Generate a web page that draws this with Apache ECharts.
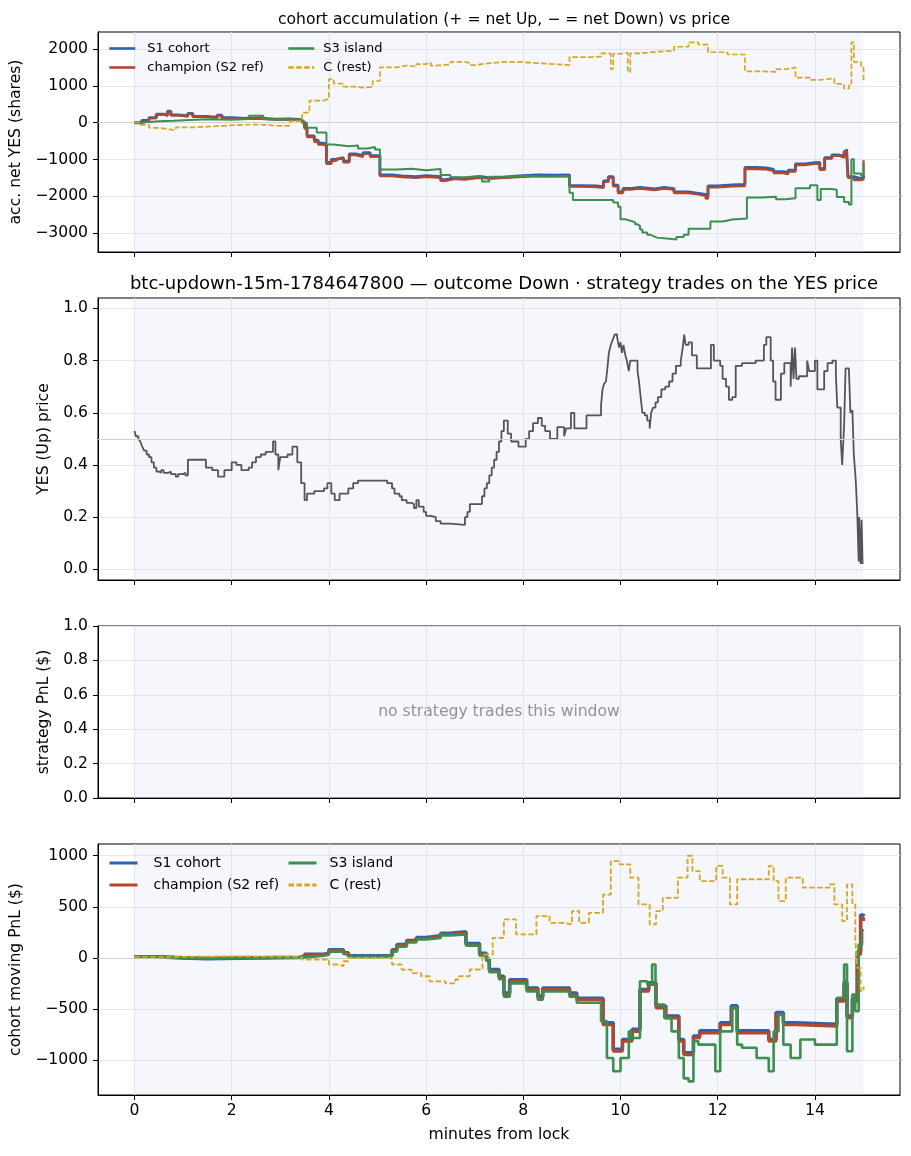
<!DOCTYPE html>
<html><head><meta charset="utf-8">
<script src="https://cdn.jsdelivr.net/npm/echarts@6/dist/echarts.min.js"></script>
<style>html,body{margin:0;padding:0;background:#fff}#c{width:911px;height:1156px}</style>
</head><body><div id="c"></div>
<script>
// ---------- data ----------
const xTicks = [0, 2, 4, 6, 8, 10, 12, 14];
const accTicks = [-3000, -2000, -1000, 0, 1000, 2000];
const priceTicks = [0, 0.2, 0.4, 0.6, 0.8, 1.0];
const pnlTicks = [0, 0.2, 0.4, 0.6, 0.8, 1.0];
const movTicks = [-1000, -500, 0, 500, 1000];
const seriesNames = ['S1 cohort', 'champion (S2 ref)', 'S3 island', 'C (rest)'];

const accS1 = [[0,0],[0.15,60],[0.3,130],[0.45,230],[0.6,200],[0.68,310],[0.75,210],[0.9,180],[1.1,250],[1.2,170],[1.5,140],[1.7,200],[1.8,130],[2.0,110],[2.3,120],[2.6,95],[2.9,100],[3.2,80],[3.45,20],[3.5,-140],[3.55,-360],[3.7,-480],[3.78,-560],[3.9,-600],[3.95,-1080],[4.05,-1000],[4.15,-950],[4.3,-1050],[4.42,-850],[4.55,-900],[4.7,-820],[4.85,-900],[5.05,-1420],[5.3,-1450],[5.5,-1470],[5.8,-1440],[6.0,-1470],[6.3,-1550],[6.4,-1500],[6.6,-1520],[6.8,-1480],[7.0,-1470],[7.15,-1500],[7.3,-1480],[7.6,-1450],[7.9,-1440],[8.0,-1420],[8.3,-1430],[8.6,-1420],[8.95,-1710],[9.2,-1720],[9.5,-1740],[9.65,-1580],[9.75,-1470],[9.85,-1700],[9.95,-1880],[10.05,-1790],[10.2,-1760],[10.4,-1800],[10.7,-1760],[10.9,-1790],[11.1,-1880],[11.4,-1920],[11.6,-1950],[11.75,-2000],[11.8,-1720],[12.0,-1690],[12.3,-1680],[12.56,-1220],[12.8,-1230],[13.0,-1270],[13.15,-1330],[13.35,-1360],[13.45,-1290],[13.6,-1120],[13.8,-1090],[14.0,-1080],[14.1,-1250],[14.2,-950],[14.35,-880],[14.5,-920],[14.6,-780],[14.65,-720],[14.68,-1470],[14.8,-1520],[14.95,-1480],[15.0,-1450]];
const accChamp = [[0,0],[0.15,50],[0.3,120],[0.45,220],[0.6,190],[0.68,300],[0.75,200],[0.9,170],[1.1,240],[1.2,160],[1.5,130],[1.7,190],[1.8,120],[2.0,100],[2.3,110],[2.6,85],[2.9,90],[3.2,70],[3.45,10],[3.5,-160],[3.55,-390],[3.7,-520],[3.78,-600],[3.9,-640],[3.95,-1120],[4.05,-1040],[4.15,-980],[4.3,-1080],[4.42,-880],[4.55,-930],[4.7,-850],[4.85,-930],[5.05,-1450],[5.3,-1480],[5.5,-1500],[5.8,-1470],[6.0,-1500],[6.3,-1580],[6.4,-1530],[6.6,-1550],[6.8,-1510],[7.0,-1500],[7.15,-1520],[7.3,-1500],[7.6,-1480],[7.9,-1470],[8.0,-1450],[8.3,-1460],[8.6,-1450],[8.95,-1740],[9.2,-1750],[9.5,-1770],[9.65,-1610],[9.75,-1500],[9.85,-1730],[9.95,-1910],[10.05,-1820],[10.2,-1790],[10.4,-1830],[10.7,-1790],[10.9,-1820],[11.1,-1910],[11.4,-1950],[11.6,-1990],[11.75,-2060],[11.8,-1760],[12.0,-1730],[12.3,-1720],[12.56,-1260],[12.8,-1270],[13.0,-1310],[13.15,-1370],[13.35,-1400],[13.45,-1330],[13.6,-1150],[13.8,-1120],[14.0,-1110],[14.1,-1280],[14.2,-980],[14.35,-900],[14.5,-950],[14.6,-800],[14.65,-740],[14.68,-1500],[14.8,-1560],[14.95,-1540],[15.0,-1020]];
const accS3 = [[0,0],[0.1,40],[0.5,50],[0.8,90],[1.5,80],[2.0,100],[2.35,190],[2.65,90],[3.2,80],[3.45,0],[3.55,-140],[3.75,-270],[3.95,-590],[4.1,-640],[4.4,-620],[4.6,-700],[4.8,-660],[4.95,-730],[5.05,-1270],[5.4,-1250],[5.7,-1290],[6.0,-1260],[6.3,-1420],[6.5,-1480],[6.8,-1450],[7.1,-1490],[7.15,-1600],[7.3,-1470],[7.7,-1450],[8.0,-1460],[8.5,-1450],[8.95,-1900],[9.02,-2100],[9.5,-2100],[9.85,-2170],[9.95,-2280],[10.0,-2620],[10.1,-2660],[10.2,-2700],[10.3,-2760],[10.35,-2800],[10.4,-2900],[10.45,-2980],[10.55,-3040],[10.6,-3080],[10.68,-3120],[10.75,-3150],[11.0,-3170],[11.15,-3100],[11.3,-3040],[11.4,-2880],[11.85,-2680],[12.1,-2630],[12.3,-2600],[12.6,-2030],[12.9,-2010],[13.2,-2080],[13.4,-2050],[13.6,-1780],[13.9,-1700],[14.05,-2100],[14.12,-1800],[14.35,-1820],[14.45,-2020],[14.6,-2150],[14.7,-2220],[14.75,-990],[14.8,-1380],[14.95,-1440],[15.0,-1080]];
const accC = [[0,0],[0.1,-60],[0.3,-140],[0.5,-180],[0.7,-200],[0.85,-130],[1.2,-110],[1.5,-70],[2.0,-50],[2.4,-60],[2.7,-90],[3.0,-80],[3.2,40],[3.45,270],[3.6,600],[3.9,650],[4.0,1180],[4.1,1060],[4.3,980],[4.5,950],[4.7,970],[4.9,1130],[5.05,1500],[5.4,1550],[5.6,1520],[5.8,1590],[6.0,1630],[6.1,1550],[6.2,1580],[6.5,1650],[6.8,1620],[6.9,1560],[7.0,1600],[7.2,1650],[7.6,1640],[8.0,1600],[8.5,1560],[8.95,1780],[9.4,1790],[9.6,1880],[9.8,1460],[9.85,1870],[10.0,1900],[10.15,1370],[10.2,1880],[10.4,1930],[10.8,1950],[11.1,2060],[11.4,2180],[11.6,2120],[11.8,1910],[12.2,1850],[12.56,1390],[12.9,1380],[13.2,1450],[13.4,1500],[13.6,1220],[13.9,1160],[14.1,1200],[14.4,1050],[14.6,920],[14.7,1050],[14.75,2180],[14.8,1640],[14.95,1500],[15.0,1140]];

const yesPrice = [[0,0.53],[0.03,0.51],[0.08,0.5],[0.12,0.49],[0.16,0.47],[0.2,0.455],[0.25,0.44],[0.3,0.43],[0.35,0.41],[0.4,0.39],[0.45,0.375],[0.5,0.37],[0.55,0.38],[0.6,0.37],[0.7,0.375],[0.75,0.365],[0.85,0.355],[0.9,0.365],[1.0,0.37],[1.05,0.36],[1.1,0.42],[1.4,0.42],[1.47,0.39],[1.6,0.38],[1.72,0.355],[1.85,0.38],[2.0,0.41],[2.1,0.4],[2.2,0.38],[2.35,0.39],[2.42,0.41],[2.5,0.43],[2.6,0.44],[2.7,0.45],[2.85,0.49],[2.9,0.44],[2.96,0.38],[3.0,0.43],[3.15,0.44],[3.25,0.47],[3.35,0.41],[3.43,0.33],[3.5,0.265],[3.55,0.29],[3.7,0.3],[3.9,0.31],[3.97,0.33],[4.05,0.29],[4.12,0.265],[4.22,0.29],[4.4,0.31],[4.5,0.33],[4.6,0.34],[5.2,0.33],[5.3,0.31],[5.35,0.29],[5.45,0.28],[5.5,0.265],[5.6,0.255],[5.7,0.25],[5.75,0.235],[5.8,0.265],[5.85,0.24],[5.95,0.22],[6.0,0.205],[6.1,0.2],[6.2,0.185],[6.3,0.175],[6.5,0.17],[6.8,0.2],[6.85,0.22],[6.9,0.25],[7.1,0.25],[7.15,0.28],[7.2,0.31],[7.25,0.33],[7.3,0.36],[7.35,0.39],[7.4,0.42],[7.45,0.45],[7.5,0.49],[7.55,0.53],[7.6,0.57],[7.68,0.52],[7.75,0.49],[7.9,0.47],[8.05,0.5],[8.12,0.53],[8.2,0.56],[8.3,0.58],[8.38,0.55],[8.45,0.53],[8.55,0.5],[8.7,0.545],[8.84,0.51],[8.88,0.54],[8.98,0.6],[9.05,0.54],[9.3,0.59],[9.6,0.63],[9.63,0.69],[9.66,0.71],[9.7,0.72],[9.73,0.77],[9.76,0.83],[9.8,0.86],[9.84,0.88],[9.88,0.9],[9.93,0.89],[9.97,0.85],[10.0,0.87],[10.03,0.83],[10.06,0.86],[10.1,0.82],[10.13,0.8],[10.17,0.76],[10.2,0.8],[10.3,0.8],[10.35,0.76],[10.38,0.72],[10.42,0.65],[10.45,0.6],[10.5,0.59],[10.55,0.57],[10.6,0.54],[10.63,0.6],[10.67,0.62],[10.72,0.64],[10.77,0.66],[10.84,0.69],[10.92,0.7],[11.0,0.72],[11.07,0.75],[11.14,0.78],[11.24,0.8],[11.28,0.85],[11.31,0.9],[11.34,0.86],[11.4,0.87],[11.47,0.82],[11.57,0.77],[11.86,0.86],[11.92,0.8],[12.05,0.78],[12.1,0.73],[12.17,0.7],[12.23,0.65],[12.3,0.66],[12.37,0.78],[12.5,0.79],[12.78,0.8],[12.95,0.86],[13.0,0.89],[13.09,0.8],[13.14,0.72],[13.19,0.65],[13.3,0.75],[13.37,0.79],[13.5,0.7],[13.53,0.85],[13.56,0.73],[13.59,0.85],[13.62,0.73],[13.67,0.74],[13.84,0.8],[13.88,0.76],[14.0,0.8],[14.05,0.69],[14.19,0.76],[14.26,0.79],[14.36,0.8],[14.43,0.75],[14.46,0.62],[14.53,0.5],[14.56,0.4],[14.6,0.55],[14.63,0.77],[14.7,0.76],[14.73,0.6],[14.77,0.61],[14.8,0.44],[14.84,0.34],[14.87,0.22],[14.9,0.03],[14.91,0.2],[14.94,0.02],[14.96,0.19],[14.98,0.02]];

const movS1 = [[0,10],[0.5,0],[1.0,-8],[1.5,0],[2.5,5],[3.4,10],[3.5,35],[3.9,45],[4.0,80],[4.3,50],[4.4,20],[5.25,25],[5.3,80],[5.4,130],[5.6,170],[5.8,200],[6.0,215],[6.3,240],[6.5,255],[6.82,140],[7.1,45],[7.24,-10],[7.3,-115],[7.5,-180],[7.6,-345],[7.72,-215],[8.07,-295],[8.3,-375],[8.4,-295],[8.95,-345],[9.1,-395],[9.64,-635],[9.85,-895],[10.04,-800],[10.24,-700],[10.4,-310],[10.58,-245],[10.73,-470],[10.93,-570],[11.2,-800],[11.3,-930],[11.5,-765],[11.63,-715],[12.05,-635],[12.28,-470],[12.4,-715],[13.05,-800],[13.2,-535],[13.35,-635],[13.6,-650],[14.45,-400],[14.6,-240],[14.66,-570],[14.77,-400],[14.87,60],[14.94,420],[15.0,430]];
const movChamp = [[0,10],[0.5,0],[1.0,-5],[1.5,0],[2.5,5],[3.4,10],[3.5,30],[3.9,40],[4.0,75],[4.3,45],[4.4,15],[5.25,20],[5.3,70],[5.4,120],[5.6,160],[5.8,190],[6.0,205],[6.3,230],[6.5,245],[6.82,130],[7.1,33],[7.24,-20],[7.3,-130],[7.5,-196],[7.6,-360],[7.72,-229],[8.07,-310],[8.3,-392],[8.4,-310],[8.95,-360],[9.1,-410],[9.64,-654],[9.85,-915],[10.04,-817],[10.24,-720],[10.4,-327],[10.58,-262],[10.73,-490],[10.93,-590],[11.2,-817],[11.3,-950],[11.5,-785],[11.63,-735],[12.05,-654],[12.28,-490],[12.4,-735],[13.05,-817],[13.2,-556],[13.35,-654],[13.6,-670],[14.45,-425],[14.6,-262],[14.66,-590],[14.77,-425],[14.87,33],[14.94,392],[15.0,360]];
const movS3 = [[0,10],[0.5,0],[1.0,-5],[1.5,0],[2.5,5],[3.4,5],[3.5,20],[3.9,30],[4.0,60],[4.3,35],[4.4,10],[5.25,15],[5.3,60],[5.4,110],[5.6,150],[5.8,180],[6.0,195],[6.3,220],[6.5,230],[6.82,120],[7.1,20],[7.24,-30],[7.3,-140],[7.5,-210],[7.6,-380],[7.72,-250],[8.07,-330],[8.3,-410],[8.4,-330],[8.95,-380],[9.1,-440],[9.6,-620],[9.72,-980],[9.85,-1110],[10.0,-980],[10.17,-720],[10.22,-785],[10.4,-229],[10.55,-260],[10.65,-65],[10.72,-458],[10.9,-590],[11.05,-720],[11.2,-980],[11.3,-1180],[11.4,-1210],[11.5,-817],[11.6,-850],[11.95,-1110],[12.05,-720],[12.3,-490],[12.4,-850],[12.5,-880],[12.8,-980],[13.05,-1110],[13.15,-720],[13.25,-556],[13.35,-850],[13.5,-980],[13.7,-800],[14.0,-850],[14.45,-392],[14.6,-65],[14.66,-915],[14.77,-360],[14.83,-523],[14.9,130],[14.97,262],[15.0,280]];
const movC = [[0,10],[1.0,15],[2.0,10],[3.4,5],[3.45,-16],[4.0,-65],[4.2,-82],[4.3,-33],[4.4,0],[5.25,-10],[5.3,-65],[5.5,-115],[5.7,-150],[5.9,-180],[6.07,-230],[6.4,-250],[6.6,-212],[6.68,-180],[6.9,-114],[7.16,33],[7.37,196],[7.6,376],[7.85,229],[8.27,409],[8.54,343],[8.82,327],[9.0,458],[9.15,343],[9.35,441],[9.64,620],[9.8,948],[9.98,915],[10.2,785],[10.37,523],[10.6,327],[10.73,458],[10.87,588],[11.18,785],[11.38,1000],[11.48,850],[11.63,752],[11.97,900],[12.1,785],[12.25,523],[12.4,770],[13.05,900],[13.15,752],[13.25,556],[13.4,785],[13.75,687],[14.3,720],[14.4,523],[14.56,360],[14.66,720],[14.77,523],[14.83,196],[14.87,-98],[14.94,-327],[15.0,-280]];

// ---------- styles ----------
const FF = 'DejaVu Sans';
const FS = 15.6;
const GRID = '#e8e8ec';
const SHADE = 'rgba(200,212,238,0.18)';
const C_BLUE = '#2a62b3', C_RED = '#b5472b', C_GREEN = '#3c8f4e', C_GOLD = '#daa520', C_PRICE = '#555555';

const grids = [
  {left: 98, right: 11, top: 32, height: 220},
  {left: 98, right: 11, top: 298, height: 282},
  {left: 98, right: 11, top: 626, height: 172},
  {left: 98, right: 11, top: 844, height: 251}
].map(g => Object.assign({show: true, borderColor: '#000', borderWidth: 1, backgroundColor: 'transparent'}, g));

const minus = v => (v < 0 ? '\u2212' : '') + Math.abs(v);
const dec1 = v => v.toFixed(1);

function xAx(i, last) {
  return {
    type: 'value', gridIndex: i, min: -0.75, max: 15.75, splitNumber: 8,
    axisLine: {show: true, onZero: false, lineStyle: {color: '#000', width: 1}},
    axisTick: {show: true, length: 5, lineStyle: {color: '#000', width: 1}, customValues: xTicks},
    axisLabel: {show: last, customValues: xTicks, color: '#000', fontSize: FS, fontFamily: FF, margin: 8},
    splitLine: {show: true, lineStyle: {color: GRID, width: 1}},
    name: last ? 'minutes from lock' : '', nameLocation: 'middle', nameGap: 32,
    nameTextStyle: {color: '#000', fontSize: FS, fontFamily: FF}
  };
}
function yAx(i, min, max, ticks, name, gap, fmt) {
  return {
    type: 'value', gridIndex: i, min: min, max: max, splitNumber: 5,
    axisLine: {show: true, onZero: false, lineStyle: {color: '#000', width: 1}},
    axisTick: {show: true, length: 5, lineStyle: {color: '#000', width: 1}, customValues: ticks},
    axisLabel: {customValues: ticks, color: '#000', fontSize: FS, fontFamily: FF, margin: 10, formatter: fmt},
    splitLine: {show: true, lineStyle: {color: GRID, width: 1}},
    name: name, nameLocation: 'middle', nameGap: gap, nameRotate: 90,
    nameTextStyle: {color: '#000', fontSize: FS, fontFamily: FF}
  };
}

function bg(i, refY) {
  const s = {
    type: 'line', name: 'bg' + i, xAxisIndex: i, yAxisIndex: i, data: [], z: 1, silent: true,
    markArea: {silent: true, itemStyle: {color: SHADE}, data: [[{xAxis: 0}, {xAxis: 15}]]}
  };
  if (refY !== null) {
    s.markLine = {silent: true, symbol: ['none', 'none'], label: {show: false},
      lineStyle: {color: '#d0d0d0', width: 1.2, type: 'solid'}, data: [{yAxis: refY}]};
  }
  return s;
}
function ln(i, name, data, color, width, dashed, z) {
  return {
    type: 'line', name: name, xAxisIndex: i, yAxisIndex: i, data: data, step: 'end',
    symbol: 'none', showSymbol: false, z: z, sampling: null,
    lineStyle: {color: color, width: width, type: dashed ? [5.5, 2.4] : 'solid'},
    itemStyle: {color: color}, emphasis: {disabled: true}
  };
}

const legendBase = (data, left, top, fs, w, gap, pad, lw) => ({
  data: data, orient: 'vertical', left: left, top: top, padding: 0, itemGap: gap,
  itemWidth: w, itemHeight: 14, selectedMode: false,
  itemStyle: {opacity: 0, borderWidth: 0},
  lineStyle: {width: lw},
  textStyle: {fontFamily: FF, fontSize: fs, color: '#000', padding: [0, 0, 0, pad]}
});

const option = {
  animation: false,
  backgroundColor: '#fff',
  title: [
    {text: 'cohort accumulation (+ = net Up, \u2212 = net Down) vs price', left: 499, top: 7, textAlign: 'center',
      textStyle: {fontFamily: FF, fontSize: 15.6, fontWeight: 'normal', color: '#000'}},
    {text: 'btc-updown-15m-1784647800 \u2014 outcome Down \u00b7 strategy trades on the YES price', left: 499, top: 270, textAlign: 'center',
      textStyle: {fontFamily: FF, fontSize: 18, fontWeight: 'normal', color: '#000'}}
  ],
  legend: [
    legendBase([seriesNames[0], seriesNames[1]], 108, 42, 13, 26, 6, 7, 2.6),
    legendBase([seriesNames[2], seriesNames[3]], 287, 42, 13, 26, 6, 4, 2.6),
    legendBase([seriesNames[0], seriesNames[1]], 108, 856, 14, 28, 8, 11, 3),
    legendBase([seriesNames[2], seriesNames[3]], 287, 856, 14, 28, 8, 8, 3)
  ],
  grid: grids,
  xAxis: [xAx(0, false), xAx(1, false), xAx(2, false), xAx(3, true)],
  yAxis: [
    yAx(0, -3510, 2460, accTicks, 'acc. net YES (shares)', 67, minus),
    yAx(1, -0.041, 1.04, priceTicks, 'YES (Up) price', 46, dec1),
    yAx(2, 0, 1, pnlTicks, 'strategy PnL ($)', 44, dec1),
    yAx(3, -1343, 1115, movTicks, 'cohort moving PnL ($)', 65, minus)
  ],
  graphic: [{
    type: 'text', x: 499, y: 712, silent: true,
    style: {text: 'no strategy trades this window', fill: '#858585', fontSize: FS, fontFamily: FF, align: 'center', verticalAlign: 'middle'}
  }],
  series: [
    bg(0, 0), bg(1, 0.5), bg(2, null), bg(3, 0),
    ln(0, seriesNames[0], accS1, C_BLUE, 3, false, 3),
    ln(0, seriesNames[1], accChamp, C_RED, 2.2, false, 4),
    ln(0, seriesNames[2], accS3, C_GREEN, 2, false, 5),
    ln(0, seriesNames[3], accC, C_GOLD, 1.7, true, 6),
    ln(1, 'YES price', yesPrice, C_PRICE, 1.8, false, 3),
    ln(3, seriesNames[0], movS1, C_BLUE, 3.6, false, 3),
    ln(3, seriesNames[1], movChamp, C_RED, 3, false, 4),
    ln(3, seriesNames[2], movS3, C_GREEN, 2.6, false, 5),
    ln(3, seriesNames[3], movC, C_GOLD, 1.8, true, 6)
  ]
};
const chart = echarts.init(document.getElementById('c'), null, {renderer: 'canvas'});
chart.setOption(option);
</script>
</body></html>
